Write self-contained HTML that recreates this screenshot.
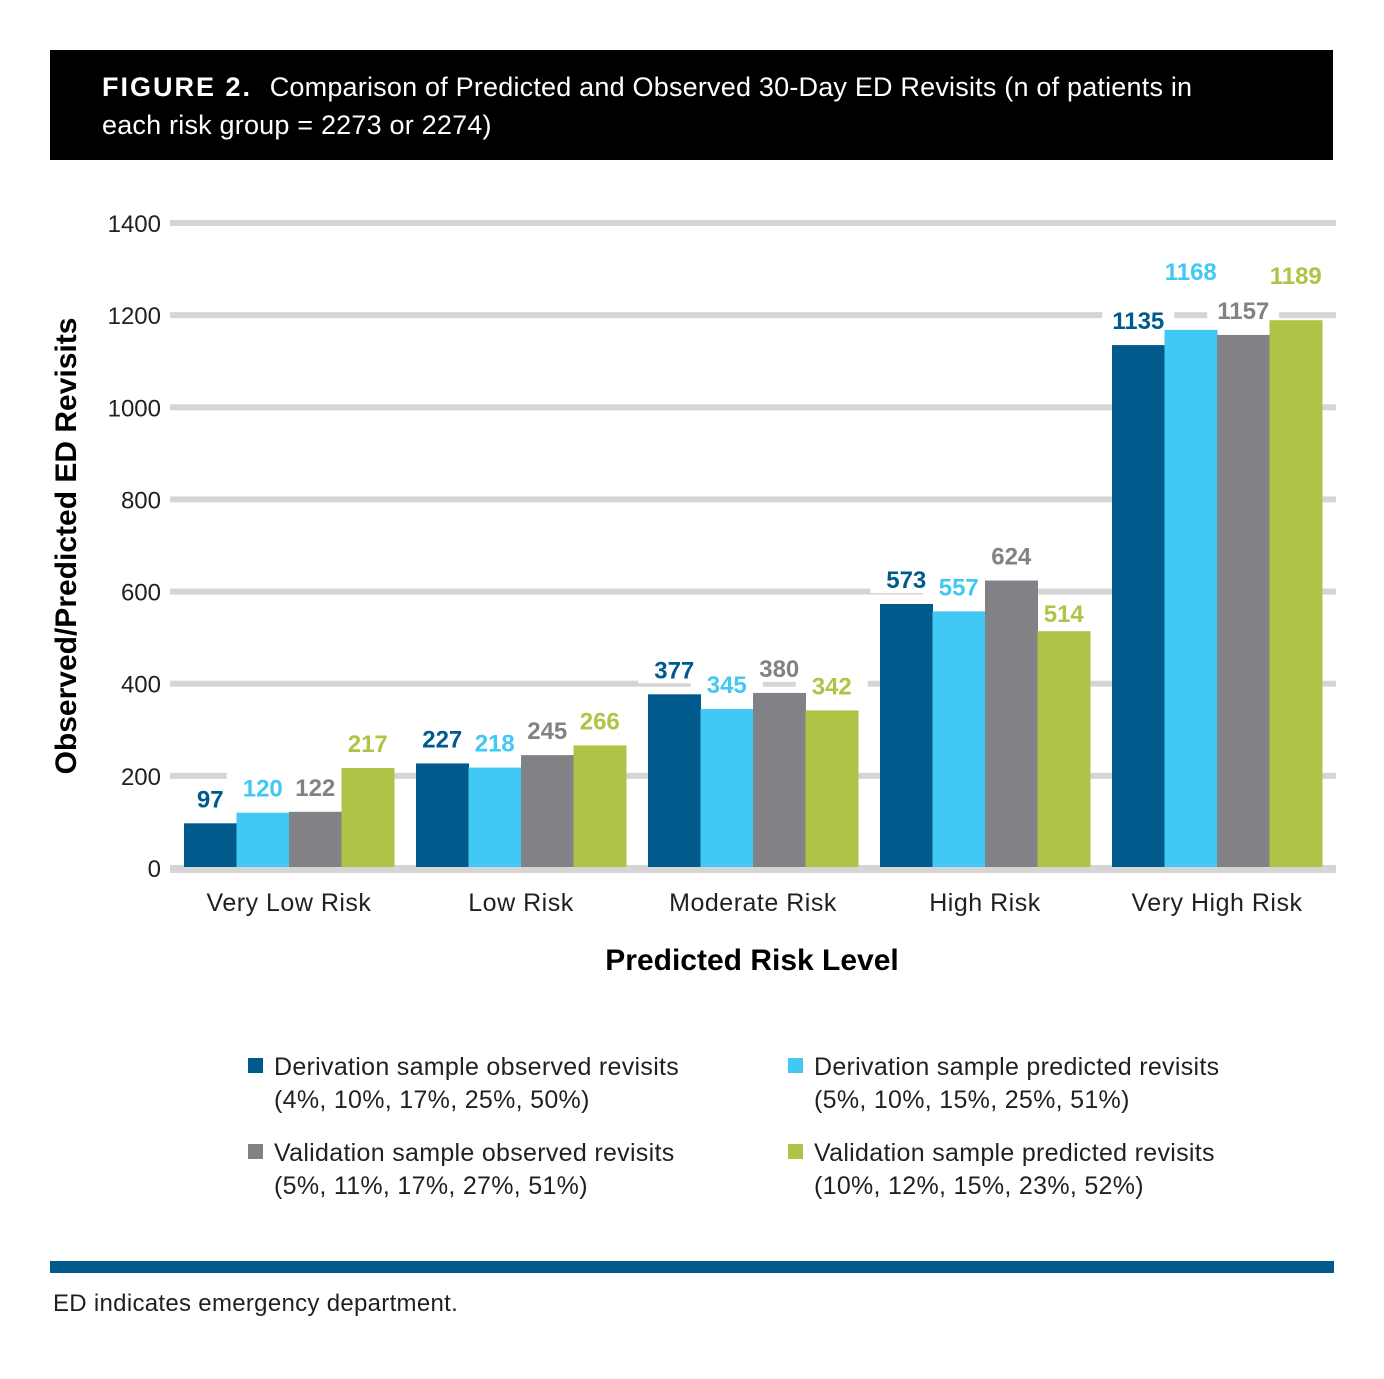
<!DOCTYPE html>
<html><head><meta charset="utf-8">
<style>
body{margin:0;background:#fff;width:1384px;height:1379px;overflow:hidden;font-family:"Liberation Sans",sans-serif;}
#title{position:absolute;left:50px;top:50px;width:1283px;height:110px;background:#000;color:#fff;font-size:27px;line-height:38px;box-sizing:border-box;padding:18px 0 0 52px;letter-spacing:0.2px;white-space:nowrap;}
#title b{letter-spacing:2px;margin-right:10px;}
svg{position:absolute;left:0;top:0;}
.leg{position:absolute;font-size:25px;line-height:33px;color:#231f20;letter-spacing:0.3px;}
.sw{position:absolute;width:15px;height:15px;}
</style></head><body>
<div id="title"><b>FIGURE 2.</b> Comparison of Predicted and Observed 30-Day ED Revisits (n of patients in<br>each risk group = 2273 or 2274)</div>
<svg id="chart" width="1384" height="1379"></svg>

<div class="sw" style="left:248px;top:1058px;background:#005a8c"></div>
<div class="leg" style="left:274px;top:1051px">Derivation sample observed revisits<br>(4%, 10%, 17%, 25%, 50%)</div>
<div class="sw" style="left:788px;top:1058px;background:#41c8f5"></div>
<div class="leg" style="left:814px;top:1051px">Derivation sample predicted revisits<br>(5%, 10%, 15%, 25%, 51%)</div>
<div class="sw" style="left:248px;top:1144px;background:#808285"></div>
<div class="leg" style="left:274px;top:1137px">Validation sample observed revisits<br>(5%, 11%, 17%, 27%, 51%)</div>
<div class="sw" style="left:788px;top:1144px;background:#afc447"></div>
<div class="leg" style="left:814px;top:1137px">Validation sample predicted revisits<br>(10%, 12%, 15%, 23%, 52%)</div>

<div style="position:absolute;left:50px;top:1261px;width:1284px;height:12px;background:#005a8c"></div>
<div style="position:absolute;left:53px;top:1290px;font-size:24px;color:#231f20;letter-spacing:0.3px">ED indicates emergency department.</div>

<script>
const categories=["Very Low Risk","Low Risk","Moderate Risk","High Risk","Very High Risk"];
const derivObserved=[97,227,377,573,1135];
const derivPredicted=[120,218,345,557,1168];
const validObserved=[122,245,380,624,1157];
const validPredicted=[217,266,342,514,1189];
const yTicks=[0,200,400,600,800,1000,1200,1400];
const seriesNames=["deriv-observed","deriv-predicted","valid-observed","valid-predicted"];
const colors=["#005a8c","#41c8f5","#808285","#afc447"];
const series=[derivObserved,derivPredicted,validObserved,validPredicted];
const extraLift=[[0,0,0,0,0],[0,0,0,0,34],[0,0,0,0,0],[0,0,0,-7,20]];

const NS="http://www.w3.org/2000/svg";
const svg=document.getElementById('chart');
const y0=868,yTop=223,xL=170,xR=1336;
function yScale(v){return y0-(v/1400)*(y0-yTop);}
const groupStart=184,groupStep=232,barW=52.5;
function xBar(g,s){return groupStart+g*groupStep+s*barW;}
function mk(t,a){const e=document.createElementNS(NS,t);for(const k in a)e.setAttribute(k,a[k]);svg.appendChild(e);return e;}

yTicks.forEach(t=>{
  const l=mk('rect',{x:xL,y:yScale(t)-3,width:xR-xL,height:6,fill:'#d5d5d5'});
  
  
  const tx=mk('text',{x:161,y:yScale(t)+9,'text-anchor':'end','font-size':24,fill:'#231f20'});
  tx.textContent=t;
  
  
});

series.forEach((arr,s)=>{
  arr.forEach((v,g)=>{
    const cx=xBar(g,s)+barW/2, cy=yScale(v)-25-extraLift[s][g];
    const bg=mk('rect',{x:cx-36,y:cy-16,width:72,height:30,fill:'#fff'});
    
    
  });
});
series.forEach((arr,s)=>{
  arr.forEach((v,g)=>{
    const r=mk('rect',{x:xBar(g,s),y:yScale(v),width:barW+0.5,height:y0-yScale(v),fill:colors[s]});
    
    
  });
});
series.forEach((arr,s)=>{
  arr.forEach((v,g)=>{
    const cx=xBar(g,s)+barW/2, cy=yScale(v)-25-extraLift[s][g];
    const t=mk('text',{x:cx,y:cy+9,'text-anchor':'middle','font-size':24,'font-weight':'bold',fill:colors[s]});
    t.textContent=v;
    
    
  });
});
const base=mk('rect',{x:xL,y:y0-1,width:xR-xL,height:6,fill:'#d5d5d5'});



categories.forEach((c,g)=>{
  const t=mk('text',{x:groupStart+g*groupStep+barW*2,y:911,'text-anchor':'middle','font-size':25,fill:'#231f20','letter-spacing':0.5});
  t.textContent=c;
  
  
});
const xt=mk('text',{x:752,y:970,'text-anchor':'middle','font-size':30,'font-weight':'bold',fill:'#000'});
xt.textContent='Predicted Risk Level';


const yt=mk('text',{x:0,y:0,'text-anchor':'middle','font-size':30,'font-weight':'bold',fill:'#000',transform:'translate(76,546) rotate(-90)'});
yt.textContent='Observed/Predicted ED Revisits';


</script>
</body></html>
